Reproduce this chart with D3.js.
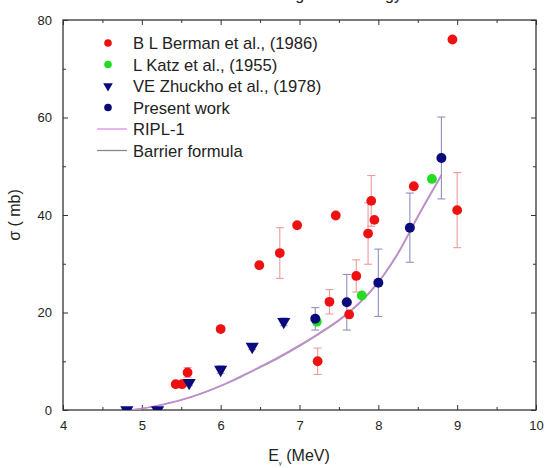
<!DOCTYPE html>
<html>
<head>
<meta charset="utf-8">
<script src="https://cdn.jsdelivr.net/npm/d3@7"></script>
<style>
  body { margin: 0; background: #fff; }
  svg { font-family: "Liberation Sans", Arial, sans-serif; }
</style>
</head>
<body>
<svg id="chart" width="545" height="468"></svg>
<script>
// B L Berman et al. (1986): [E, sigma, err]
const berman = [
  [5.43, 5.3, 0], [5.51, 5.3, 0], [5.58, 7.7, 1.0], [6.0, 16.6, 0],
  [6.49, 29.7, 0], [6.75, 32.2, 5.2], [6.97, 37.9, 0], [7.23, 10.0, 2.7],
  [7.38, 22.2, 2.5], [7.46, 39.9, 0], [7.63, 19.6, 0], [7.72, 27.5, 3.3],
  [7.87, 36.2, 6.3], [7.91, 42.9, 5.2], [7.95, 39.0, 0], [8.45, 45.9, 0],
  [8.94, 76.0, 0], [9.0, 41.0, 7.7]
];
// L Katz et al. (1955)
const katz = [[7.22, 18.1], [7.79, 23.5], [8.68, 47.4]];
// VE Zhuckho et al. (1978)
const zhuckho = [[4.81, 0, 0], [5.2, 0, 0], [5.6, 5.6, 0.6], [6.0, 8.3, 0.8], [6.4, 13.0, 0.6], [6.8, 18.1, 0.8]];
// Present work
const present = [[7.2, 18.7, 2.3], [7.6, 22.1, 5.7], [8.0, 26.1, 6.9], [8.4, 37.4, 7.1], [8.8, 51.7, 8.4]];
// RIPL-1 and barrier formula curves
const ripl = [
  [4.85, 0], [5.0, 0.3], [5.25, 1.1], [5.5, 2.1], [5.75, 3.4], [6.0, 5.0], [6.25, 6.9],
  [6.5, 8.9], [6.75, 11.0], [7.0, 13.3], [7.25, 15.8], [7.5, 18.5], [7.75, 21.9],
  [8.0, 26.3], [8.25, 32.3], [8.5, 39.8], [8.8, 48.3]
];
const barrier = [
  [4.85, 0], [5.0, 0.3], [5.25, 1.0], [5.5, 2.0], [5.75, 3.3], [6.0, 4.9], [6.25, 6.7],
  [6.5, 8.7], [6.75, 10.8], [7.0, 13.1], [7.25, 15.6], [7.5, 18.3], [7.75, 21.7],
  [8.0, 26.1], [8.25, 32.0], [8.5, 39.5], [8.8, 48.0]
];
const xTicks = [4, 5, 6, 7, 8, 9, 10];
const yTicks = [0, 20, 40, 60, 80];

const legendItems = [
  {label: "B L Berman et al., (1986)", type: "circle", color: "#ee1111"},
  {label: "L Katz et al., (1955)", type: "circle", color: "#22dd22"},
  {label: "VE Zhuckho et al., (1978)", type: "tri", color: "#0a0a7a"},
  {label: "Present work", type: "circle", color: "#0a0a7a"},
  {label: "RIPL-1", type: "line", color: "#e08ce8"},
  {label: "Barrier formula", type: "line", color: "#888888"}
];

const svg = d3.select("#chart");
const m = {left: 63, right: 536, top: 20, bottom: 410};

const x = d3.scaleLinear().domain([4, 10]).range([m.left, m.right]);
const y = d3.scaleLinear().domain([0, 80]).range([m.bottom, m.top]);

svg.append("defs").append("clipPath").attr("id", "clip")
  .append("rect").attr("x", m.left).attr("y", m.top)
  .attr("width", m.right - m.left).attr("height", m.bottom - m.top);

// title sits above the picture's top edge, as in the reference
svg.append("text").attr("x", 402).attr("y", 0).attr("text-anchor", "end")
  .attr("font-size", 16).attr("fill", "#222").text("Cross section vs gamma energy");

// axes with inward ticks
const xMinor = d3.range(4.5, 10, 1);
const yMinor = d3.range(10, 80, 20);
function styleAxis(g) {
  g.select(".domain").remove();
  g.selectAll(".tick line").attr("stroke", "#333").attr("stroke-width", 1);
  g.selectAll(".tick text").attr("fill", "#222").attr("font-size", 13)
    .attr("font-family", "Liberation Sans, Arial, sans-serif");
}
svg.append("g").attr("transform", `translate(0,${m.bottom})`)
  .call(d3.axisBottom(x).tickValues(xTicks).tickSizeInner(-5).tickSizeOuter(0).tickPadding(11).tickFormat(d3.format("d")))
  .call(styleAxis);
svg.append("g").attr("transform", `translate(0,${m.bottom})`)
  .call(d3.axisBottom(x).tickValues(xMinor).tickSize(-3).tickFormat(""))
  .call(styleAxis);
svg.append("g").attr("transform", `translate(0,${m.top})`)
  .call(d3.axisTop(x).tickValues(xTicks).tickSize(-5).tickFormat(""))
  .call(styleAxis);
svg.append("g").attr("transform", `translate(0,${m.top})`)
  .call(d3.axisTop(x).tickValues(xMinor).tickSize(-3).tickFormat(""))
  .call(styleAxis);
svg.append("g").attr("transform", `translate(${m.left},0)`)
  .call(d3.axisLeft(y).tickValues(yTicks).tickSizeInner(-5).tickSizeOuter(0).tickPadding(11).tickFormat(d3.format("d")))
  .call(styleAxis);
svg.append("g").attr("transform", `translate(${m.left},0)`)
  .call(d3.axisLeft(y).tickValues(yMinor).tickSize(-3).tickFormat(""))
  .call(styleAxis);
svg.append("g").attr("transform", `translate(${m.right},0)`)
  .call(d3.axisRight(y).tickValues(yTicks).tickSize(-5).tickFormat(""))
  .call(styleAxis);
svg.append("g").attr("transform", `translate(${m.right},0)`)
  .call(d3.axisRight(y).tickValues(yMinor).tickSize(-3).tickFormat(""))
  .call(styleAxis);

svg.append("rect").attr("x", m.left).attr("y", m.top)
  .attr("width", m.right - m.left).attr("height", m.bottom - m.top)
  .attr("fill", "none").attr("stroke", "#333").attr("stroke-width", 1.3);

// axis titles
const xl = svg.append("text").attr("x", 299).attr("y", 461).attr("text-anchor", "middle")
  .attr("font-size", 16).attr("fill", "#222");
xl.append("tspan").text("E");
xl.append("tspan").attr("font-size", 6).attr("dy", 4).text("γ");
xl.append("tspan").attr("dy", -4).text(" (MeV)");
svg.append("text").attr("transform", "translate(20,215) rotate(-90)")
  .attr("text-anchor", "middle").attr("font-size", 16).attr("fill", "#222").text("σ ( mb)");

const plot = svg.append("g").attr("clip-path", "url(#clip)");

// curves
const line = d3.line().x(d => x(d[0])).y(d => y(d[1])).curve(d3.curveCatmullRom);
plot.append("path").datum(barrier).attr("d", line)
  .attr("fill", "none").attr("stroke", "#999").attr("stroke-width", 1.2);
plot.append("path").datum(ripl).attr("d", line)
  .attr("fill", "none").attr("stroke", "#c888d8").attr("stroke-width", 1.4);

// error bars
function errorBars(data, color) {
  const g = plot.append("g").attr("stroke", color).attr("stroke-width", 1.1);
  data.filter(d => d[2] > 0).forEach(d => {
    const cx = x(d[0]);
    g.append("line").attr("x1", cx).attr("x2", cx).attr("y1", y(d[1] - d[2])).attr("y2", y(d[1] + d[2]));
    [d[1] - d[2], d[1] + d[2]].forEach(v => {
      g.append("line").attr("x1", cx - 4).attr("x2", cx + 4).attr("y1", y(v)).attr("y2", y(v));
    });
  });
}
errorBars(berman, "#f09a9a");
errorBars(zhuckho, "#a8a8d8");
errorBars(present, "#8f8fc0");

const tri = d3.symbol().type(d3.symbolTriangle).size(75);

plot.append("g").selectAll("circle").data(berman).join("circle")
  .attr("cx", d => x(d[0])).attr("cy", d => y(d[1])).attr("r", 4.9).attr("fill", "#ee1111");
plot.append("g").selectAll("circle").data(katz).join("circle")
  .attr("cx", d => x(d[0])).attr("cy", d => y(d[1])).attr("r", 4.9).attr("fill", "#22dd22");
plot.append("g").selectAll("path").data(zhuckho).join("path")
  .attr("d", tri).attr("fill", "#0a0a7a")
  .attr("transform", d => `translate(${x(d[0])},${y(d[1])}) rotate(180)`);
plot.append("g").selectAll("circle").data(present).join("circle")
  .attr("cx", d => x(d[0])).attr("cy", d => y(d[1])).attr("r", 5).attr("fill", "#0a0a7a");

// legend
const lg = svg.append("g").attr("transform", "translate(0,43)");
legendItems.forEach((it, i) => {
  const g = lg.append("g").attr("transform", `translate(0,${i * 21.5})`);
  if (it.type === "circle") {
    g.append("circle").attr("cx", 108).attr("cy", 0).attr("r", 3.8).attr("fill", it.color);
  } else if (it.type === "tri") {
    g.append("path").attr("d", d3.symbol().type(d3.symbolTriangle).size(40))
      .attr("transform", "translate(108,0) rotate(180)").attr("fill", it.color);
  } else {
    g.append("line").attr("x1", 97).attr("x2", 127).attr("y1", 0).attr("y2", 0)
      .attr("stroke", it.color).attr("stroke-width", 1.3);
  }
  g.append("text").attr("x", 133).attr("y", 6).attr("font-size", 16.6)
    .attr("fill", "#222").text(it.label);
});
</script>
</body>
</html>
